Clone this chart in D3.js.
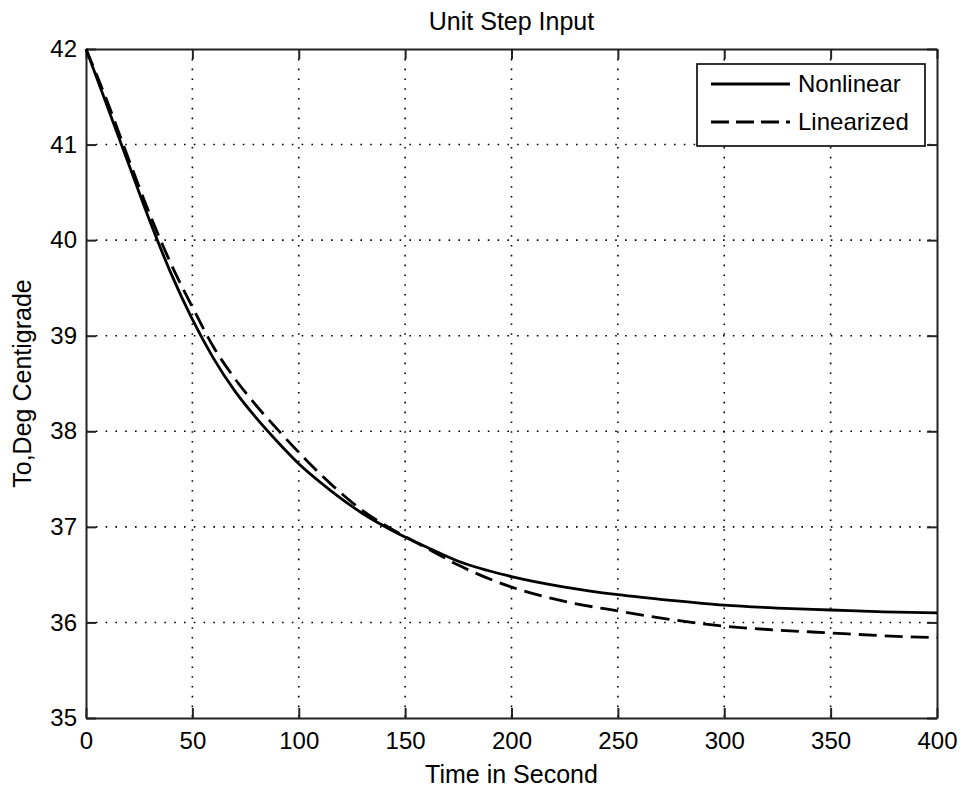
<!DOCTYPE html>
<html>
<head>
<meta charset="utf-8">
<script src="https://cdn.jsdelivr.net/npm/d3@7"></script>
<style>
  body { margin: 0; background: #fff; }
  svg { display: block; }
  text { font-family: "Liberation Sans", Arial, sans-serif; fill: #000; }
</style>
</head>
<body>
<div id="chart"></div>
<script>
"use strict";

/********/
/* data */
/********/

const time = [0, 10, 20, 30, 40, 50, 60, 70, 80, 90, 100, 115, 130, 145, 160, 175, 200, 225, 250, 275, 300, 325, 350, 375, 400];
const nonlinear = [42, 41.4, 40.8, 40.2, 39.65, 39.17, 38.76, 38.42, 38.14, 37.89, 37.66, 37.38, 37.14, 36.95, 36.79, 36.64, 36.48, 36.37, 36.29, 36.23, 36.18, 36.15, 36.13, 36.11, 36.1];
const linearized = [42, 41.45, 40.85, 40.27, 39.75, 39.3, 38.88, 38.55, 38.27, 38.02, 37.78, 37.45, 37.17, 36.96, 36.78, 36.6, 36.37, 36.22, 36.12, 36.03, 35.96, 35.92, 35.89, 35.86, 35.84];

const xTicks = [0, 50, 100, 150, 200, 250, 300, 350, 400];
const yTicks = [35, 36, 37, 38, 39, 40, 41, 42];
const seriesNames = ["Nonlinear", "Linearized"];

/********/
/* view */
/********/

const width = 962;
const height = 790;
const margin = { top: 49, right: 25, bottom: 72, left: 86 };

const svg = d3
  .select("#chart")
  .append("svg")
  .attr("width", width)
  .attr("height", height);

const x = d3
  .scaleLinear()
  .domain([0, 400])
  .range([margin.left, width - margin.right]);

const y = d3
  .scaleLinear()
  .domain([35, 42])
  .range([height - margin.bottom, margin.top]);

// grid
const grid = svg
  .append("g")
  .attr("stroke", "#000")
  .attr("stroke-width", 1.6)
  .attr("stroke-dasharray", "1.6,8.2");
grid
  .selectAll(".vgrid")
  .data(xTicks.slice(1, -1))
  .enter()
  .append("line")
  .attr("x1", d => x(d))
  .attr("x2", d => x(d))
  .attr("y1", y(42))
  .attr("y2", y(35));
grid
  .selectAll(".hgrid")
  .data(yTicks.slice(1, -1))
  .enter()
  .append("line")
  .attr("x1", x(0))
  .attr("x2", x(400))
  .attr("y1", d => y(d))
  .attr("y2", d => y(d));

// axes (ticks inside, on all four sides)
const tickSize = 10;
const bottomAxis = d3.axisBottom(x).tickValues(xTicks).tickFormat(d3.format("d"))
  .tickSizeInner(-tickSize).tickSizeOuter(0).tickPadding(14);
const topAxis = d3.axisTop(x).tickValues(xTicks).tickFormat("")
  .tickSizeInner(-tickSize).tickSizeOuter(0);
const leftAxis = d3.axisLeft(y).tickValues(yTicks).tickFormat(d3.format("d"))
  .tickSizeInner(-tickSize).tickSizeOuter(0).tickPadding(9);
const rightAxis = d3.axisRight(y).tickValues(yTicks).tickFormat("")
  .tickSizeInner(-tickSize).tickSizeOuter(0);

function styleAxis(g) {
  g.attr("font-size", 24).attr("font-family", "Liberation Sans, Arial, sans-serif");
  g.select(".domain").attr("stroke", "#222").attr("stroke-width", 2);
  g.selectAll(".tick line").attr("stroke", "#222").attr("stroke-width", 2);
}

svg.append("g").attr("transform", `translate(0,${y(35)})`).call(bottomAxis).call(styleAxis);
svg.append("g").attr("transform", `translate(0,${y(42)})`).call(topAxis).call(styleAxis);
svg.append("g").attr("transform", `translate(${x(0)},0)`).call(leftAxis).call(styleAxis);
svg.append("g").attr("transform", `translate(${x(400)},0)`).call(rightAxis).call(styleAxis);

// lines
const line = d3
  .line()
  .x(d => x(d[0]))
  .y(d => y(d[1]))
  .curve(d3.curveMonotoneX);

svg
  .append("path")
  .datum(d3.zip(time, nonlinear))
  .attr("fill", "none")
  .attr("stroke", "#000")
  .attr("stroke-width", 2.8)
  .attr("d", line);

svg
  .append("path")
  .datum(d3.zip(time, linearized))
  .attr("fill", "none")
  .attr("stroke", "#000")
  .attr("stroke-width", 2.8)
  .attr("stroke-dasharray", "18,8")
  .attr("d", line);

// title and axis labels
svg
  .append("text")
  .attr("x", (x(0) + x(400)) / 2)
  .attr("y", 30)
  .attr("text-anchor", "middle")
  .attr("font-size", 25)
  .text("Unit Step Input");

svg
  .append("text")
  .attr("x", (x(0) + x(400)) / 2)
  .attr("y", 783)
  .attr("text-anchor", "middle")
  .attr("font-size", 25)
  .text("Time in Second");

svg
  .append("text")
  .attr("transform", `translate(31,${(y(35) + y(42)) / 2}) rotate(-90)`)
  .attr("text-anchor", "middle")
  .attr("font-size", 25)
  .text("To,Deg Centigrade");

// legend
const legend = svg.append("g").attr("transform", "translate(697,64)");
legend
  .append("rect")
  .attr("width", 228)
  .attr("height", 82)
  .attr("fill", "#fff")
  .attr("stroke", "#000")
  .attr("stroke-width", 1.6);

seriesNames.forEach((name, i) => {
  const ly = 20 + i * 38;
  legend
    .append("line")
    .attr("x1", 14)
    .attr("x2", 93)
    .attr("y1", ly)
    .attr("y2", ly)
    .attr("stroke", "#000")
    .attr("stroke-width", 2.8)
    .attr("stroke-dasharray", i === 0 ? null : "18,7");
  legend
    .append("text")
    .attr("x", 101)
    .attr("y", ly)
    .attr("dy", "0.35em")
    .attr("font-size", 24)
    .text(name);
});
</script>
</body>
</html>
